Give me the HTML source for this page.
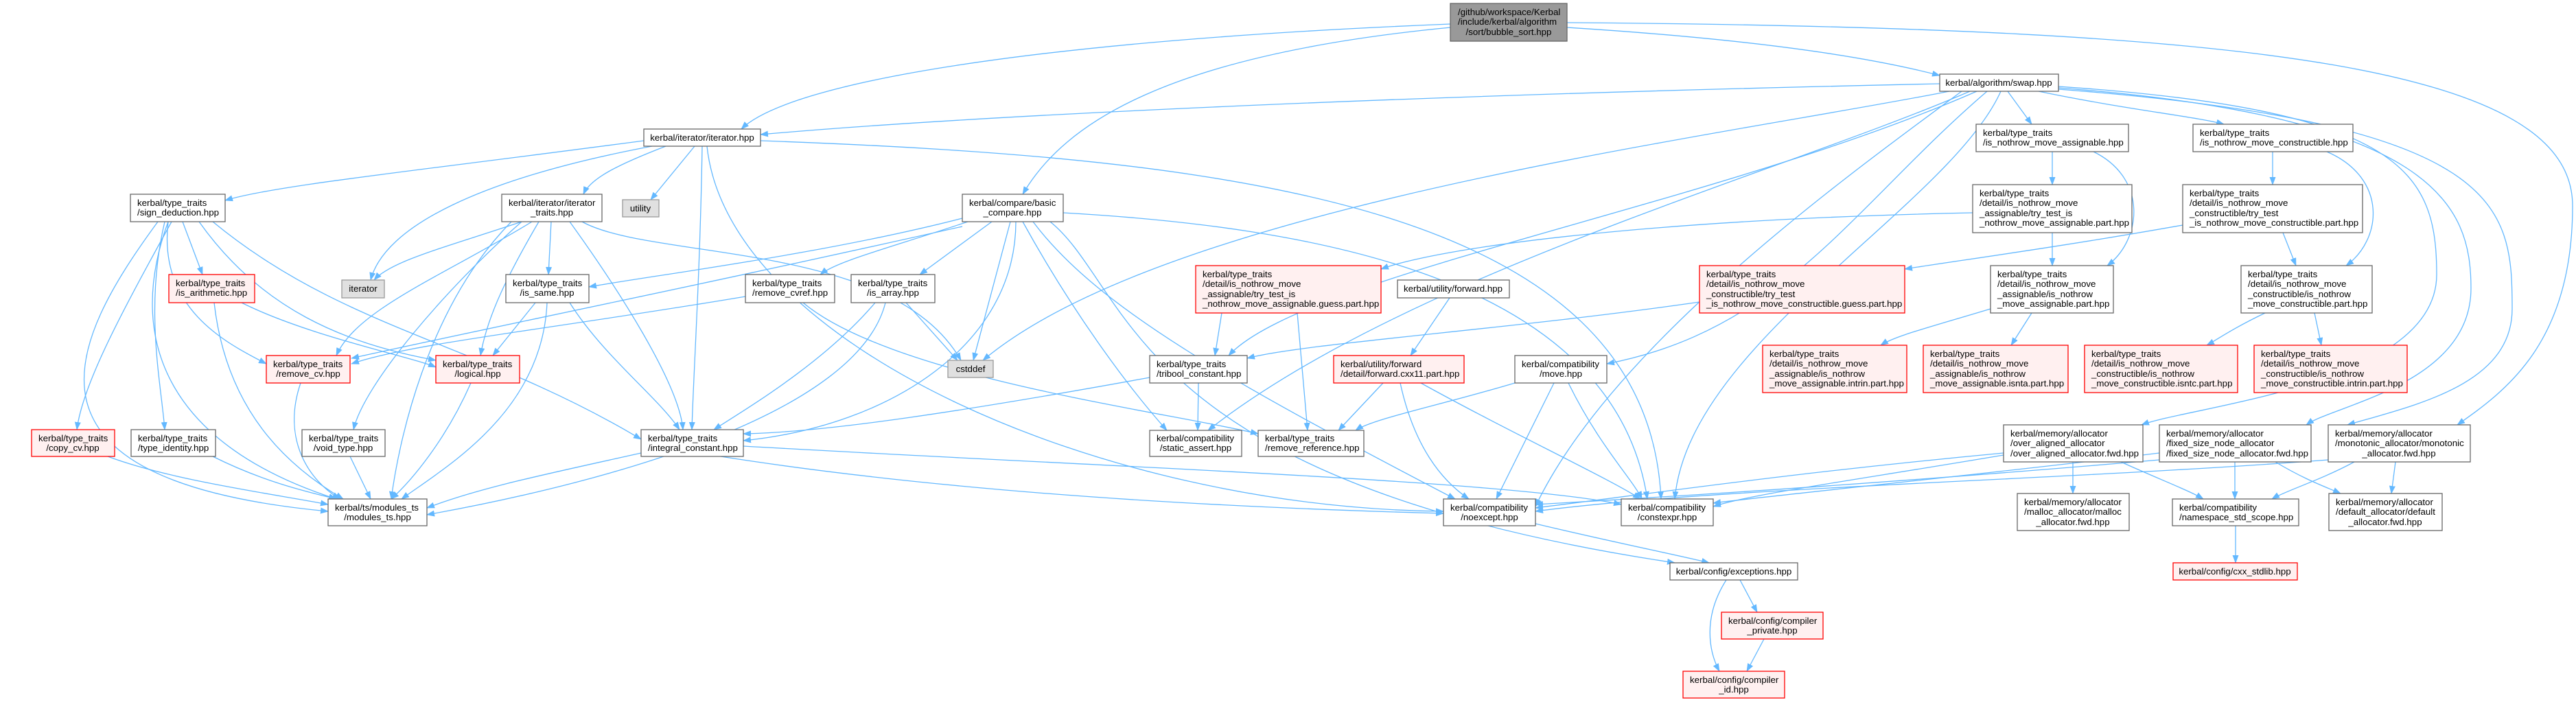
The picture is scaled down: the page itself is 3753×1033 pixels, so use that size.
<!DOCTYPE html>
<html><head><meta charset="utf-8"><style>
html,body{margin:0;padding:0;background:#fff;}
svg{display:block;}
text{font-family:"Liberation Sans",Arial,sans-serif;font-size:13.3px;fill:#000;}
.n{fill:#fff;stroke:#666;stroke-width:1.3;}
.r{fill:#fff0f0;stroke:#f00;stroke-width:1.3;}
.g{fill:#e0e0e0;stroke:#999;stroke-width:1.3;}
.rt{fill:#999;stroke:#666;stroke-width:1.3;}
.e path{fill:none;stroke:#63b8ff;stroke-width:1.3;marker-end:url(#a);}
</style></head><body>
<svg width="3753" height="1033" viewBox="0 0 3753 1033" xmlns="http://www.w3.org/2000/svg">
<defs><marker id="a" markerUnits="userSpaceOnUse" markerWidth="12" markerHeight="10" refX="11" refY="4.5" orient="auto"><path d="M0,0 L12,4.5 L0,9 z" fill="#63b8ff"/></marker></defs>
<g class="e">
<path d="M2113,35 C1500,60 1150,120 1080,188"/>
<path d="M2113,40 C1700,80 1550,180 1490,283"/>
<path d="M2283,40 C2600,60 2750,90 2826,110"/>
<path d="M2283,33 C3300,40 3748,100 3748,300 C3748,500 3650,570 3580,619"/>
<path d="M938,205 C600,250 400,270 328,292"/>
<path d="M970,213 C900,240 860,260 850,283"/>
<path d="M950,213 C700,260 560,330 540,408"/>
<path d="M1012,213 L948,291"/>
<path d="M1023,213 C1020,400 1010,550 1008,626"/>
<path d="M1030,213 C1060,500 1600,740 2103,745"/>
<path d="M1108,205 C1800,230 2400,300 2420,727"/>
<path d="M760,323 C650,360 570,380 545,408"/>
<path d="M803,323 L799,400"/>
<path d="M775,323 C650,400 520,450 490,518"/>
<path d="M785,323 C740,400 710,460 700,518"/>
<path d="M830,323 C900,420 990,560 995,626"/>
<path d="M760,323 C650,420 530,560 515,626"/>
<path d="M745,323 C620,450 580,650 570,727"/>
<path d="M848,323 C950,380 1300,350 1400,525"/>
<path d="M266,323 L295,400"/>
<path d="M245,323 C230,450 330,500 388,530"/>
<path d="M290,323 C380,450 500,500 635,525"/>
<path d="M310,323 C500,480 700,500 934,640"/>
<path d="M230,323 C100,500 0,700 478,745"/>
<path d="M250,323 C180,450 120,560 112,626"/>
<path d="M240,323 C210,450 235,560 240,626"/>
<path d="M245,323 C180,500 250,650 490,727"/>
<path d="M352,441 C450,490 600,520 635,535"/>
<path d="M312,441 C330,600 420,680 500,727"/>
<path d="M780,441 L718,518"/>
<path d="M830,441 C880,520 960,580 990,626"/>
<path d="M797,441 C790,600 650,680 585,727"/>
<path d="M438,558 C410,640 450,700 495,727"/>
<path d="M686,558 C650,640 600,700 570,727"/>
<path d="M510,665 L540,727"/>
<path d="M157,665 C250,700 400,720 478,735"/>
<path d="M310,665 C380,700 440,715 490,727"/>
<path d="M934,660 C800,690 700,710 622,740"/>
<path d="M1050,665 C1400,720 1800,740 2103,748"/>
<path d="M1083,650 C1600,680 2200,700 2362,735"/>
<path d="M1410,323 C1300,360 1220,380 1195,400"/>
<path d="M1445,323 L1340,400"/>
<path d="M1480,323 C1480,500 1300,620 1083,642"/>
<path d="M1472,323 L1418,525"/>
<path d="M1490,323 C1560,450 1640,560 1700,627"/>
<path d="M1505,323 C1600,450 1800,560 2120,727"/>
<path d="M1549,310 C1900,330 2350,400 2400,727"/>
<path d="M1530,323 C1650,420 1640,700 2440,820"/>
<path d="M1402,318 C1200,370 960,400 858,418"/>
<path d="M1402,330 C1000,420 700,480 512,522"/>
<path d="M1086,432 C800,480 600,500 512,530"/>
<path d="M1170,441 C1300,550 1700,600 1833,632"/>
<path d="M1275,441 C1200,530 1080,600 1040,626"/>
<path d="M1290,441 C1250,600 900,700 622,750"/>
<path d="M1320,441 L1395,525"/>
<path d="M2826,122 C2000,140 1400,170 1108,196"/>
<path d="M2925,133 L2960,181"/>
<path d="M2970,133 C3100,160 3200,170 3240,181"/>
<path d="M2840,133 C2500,200 1700,300 1432,525"/>
<path d="M2880,133 C2500,300 1900,400 1790,518"/>
<path d="M2895,133 C2700,300 2600,480 2341,530"/>
<path d="M2858,133 C2700,250 2350,500 2237,738"/>
<path d="M2915,133 C2840,300 2460,500 2440,727"/>
<path d="M2870,133 C2600,250 2050,400 1760,627"/>
<path d="M2999,126 C3500,160 3550,250 3550,400 C3550,560 3200,590 3120,619"/>
<path d="M2999,128 C3550,170 3600,300 3600,420 C3600,560 3400,590 3360,619"/>
<path d="M2999,130 C3650,180 3660,300 3660,450 C3660,560 3520,590 3420,619"/>
<path d="M2990,221 L2990,269"/>
<path d="M3050,221 C3130,260 3120,350 3070,387"/>
<path d="M3311,221 L3311,269"/>
<path d="M3390,221 C3480,260 3470,350 3418,387"/>
<path d="M2874,310 C2400,320 2100,360 2012,392"/>
<path d="M2990,339 L2990,387"/>
<path d="M3180,328 C3000,360 2850,380 2775,392"/>
<path d="M3326,339 L3345,387"/>
<path d="M1780,456 L1770,518"/>
<path d="M1890,456 L1905,627"/>
<path d="M2476,440 C2200,480 1900,500 1817,522"/>
<path d="M2900,450 C2800,480 2760,490 2740,503"/>
<path d="M2960,456 L2930,503"/>
<path d="M3300,456 C3250,480 3230,495 3215,503"/>
<path d="M3372,456 L3382,503"/>
<path d="M1675,550 C1400,600 1200,630 1083,632"/>
<path d="M1746,558 L1745,627"/>
<path d="M2112,434 L2055,518"/>
<path d="M2015,558 L1950,627"/>
<path d="M2040,558 C2060,650 2100,700 2140,727"/>
<path d="M2070,558 C2200,630 2350,700 2390,727"/>
<path d="M2207,558 C2100,590 2000,610 1975,627"/>
<path d="M2264,558 L2180,727"/>
<path d="M2285,558 C2330,650 2380,700 2392,727"/>
<path d="M2919,660 C2600,690 2400,720 2237,740"/>
<path d="M2919,663 C2700,700 2550,720 2496,738"/>
<path d="M3020,673 L3020,719"/>
<path d="M3090,673 C3150,700 3190,715 3210,727"/>
<path d="M3146,670 C2800,700 2500,720 2237,735"/>
<path d="M3146,660 C2900,690 2600,720 2496,733"/>
<path d="M3256,673 L3256,727"/>
<path d="M3315,673 C3360,700 3390,710 3410,719"/>
<path d="M3430,673 C3380,700 3330,715 3310,727"/>
<path d="M3490,673 L3484,719"/>
<path d="M3392,670 C3000,700 2500,710 2237,745"/>
<path d="M2237,763 C2350,790 2450,810 2490,820"/>
<path d="M2535,845 L2560,892"/>
<path d="M2515,845 C2480,900 2490,950 2505,978"/>
<path d="M2570,931 L2545,978"/>
<path d="M3257,766 L3257,820"/>
</g>
<g>
<rect class="rt" x="2113" y="5" width="170" height="55"/>
<text x="2124" y="22">/github/workspace/Kerbal</text><text x="2124" y="36">/include/kerbal/algorithm</text><text x="2198" y="51" text-anchor="middle">/sort/bubble_sort.hpp</text>

<rect class="n" x="938" y="188" width="170" height="25"/><text x="1023" y="205" text-anchor="middle">kerbal/iterator/iterator.hpp</text>
<rect class="n" x="2826" y="108" width="173" height="25"/><text x="2912" y="125" text-anchor="middle">kerbal/algorithm/swap.hpp</text>
<rect class="n" x="1402" y="283" width="147" height="40"/><text x="1412" y="300">kerbal/compare/basic</text><text x="1475" y="314" text-anchor="middle">_compare.hpp</text>
<rect class="n" x="190" y="283" width="138" height="40"/><text x="200" y="300">kerbal/type_traits</text><text x="200" y="314">/sign_deduction.hpp</text>
<rect class="n" x="731" y="283" width="146" height="40"/><text x="741" y="300">kerbal/iterator/iterator</text><text x="804" y="314" text-anchor="middle">_traits.hpp</text>
<rect class="g" x="907" y="291" width="53" height="25"/><text x="933" y="308" text-anchor="middle">utility</text>
<rect class="n" x="2879" y="181" width="222" height="40"/><text x="2889" y="198">kerbal/type_traits</text><text x="2889" y="212">/is_nothrow_move_assignable.hpp</text>
<rect class="n" x="3195" y="181" width="233" height="40"/><text x="3205" y="198">kerbal/type_traits</text><text x="3205" y="212">/is_nothrow_move_constructible.hpp</text>
<rect class="n" x="2874" y="269" width="232" height="70"/><text x="2884" y="286">kerbal/type_traits</text><text x="2884" y="300">/detail/is_nothrow_move</text><text x="2884" y="315">_assignable/try_test_is</text><text x="2884" y="329">_nothrow_move_assignable.part.hpp</text>
<rect class="n" x="3180" y="269" width="262" height="70"/><text x="3190" y="286">kerbal/type_traits</text><text x="3190" y="300">/detail/is_nothrow_move</text><text x="3190" y="315">_constructible/try_test</text><text x="3190" y="329">_is_nothrow_move_constructible.part.hpp</text>
<rect class="r" x="1742" y="387" width="270" height="69"/><text x="1752" y="404">kerbal/type_traits</text><text x="1752" y="418">/detail/is_nothrow_move</text><text x="1752" y="433">_assignable/try_test_is</text><text x="1752" y="447">_nothrow_move_assignable.guess.part.hpp</text>
<rect class="r" x="2476" y="387" width="299" height="69"/><text x="2486" y="404">kerbal/type_traits</text><text x="2486" y="418">/detail/is_nothrow_move</text><text x="2486" y="433">_constructible/try_test</text><text x="2486" y="447">_is_nothrow_move_constructible.guess.part.hpp</text>
<rect class="n" x="2900" y="387" width="179" height="69"/><text x="2910" y="404">kerbal/type_traits</text><text x="2910" y="418">/detail/is_nothrow_move</text><text x="2910" y="433">_assignable/is_nothrow</text><text x="2910" y="447">_move_assignable.part.hpp</text>
<rect class="n" x="3265" y="387" width="191" height="69"/><text x="3275" y="404">kerbal/type_traits</text><text x="3275" y="418">/detail/is_nothrow_move</text><text x="3275" y="433">_constructible/is_nothrow</text><text x="3275" y="447">_move_constructible.part.hpp</text>
<rect class="n" x="2036" y="408" width="163" height="26"/><text x="2117" y="425" text-anchor="middle">kerbal/utility/forward.hpp</text>
<rect class="r" x="246" y="400" width="125" height="41"/><text x="256" y="417">kerbal/type_traits</text><text x="256" y="431">/is_arithmetic.hpp</text>
<rect class="g" x="498" y="408" width="62" height="26"/><text x="529" y="425" text-anchor="middle">iterator</text>
<rect class="n" x="737" y="400" width="121" height="41"/><text x="747" y="417">kerbal/type_traits</text><text x="797" y="431" text-anchor="middle">/is_same.hpp</text>
<rect class="n" x="1086" y="400" width="130" height="41"/><text x="1096" y="417">kerbal/type_traits</text><text x="1096" y="431">/remove_cvref.hpp</text>
<rect class="n" x="1240" y="400" width="122" height="41"/><text x="1250" y="417">kerbal/type_traits</text><text x="1301" y="431" text-anchor="middle">/is_array.hpp</text>
<rect class="g" x="1381" y="525" width="66" height="25"/><text x="1414" y="542" text-anchor="middle">cstddef</text>
<rect class="r" x="388" y="518" width="122" height="40"/><text x="398" y="535">kerbal/type_traits</text><text x="449" y="549" text-anchor="middle">/remove_cv.hpp</text>
<rect class="r" x="635" y="518" width="122" height="40"/><text x="645" y="535">kerbal/type_traits</text><text x="696" y="549" text-anchor="middle">/logical.hpp</text>
<rect class="n" x="1675" y="518" width="142" height="40"/><text x="1685" y="535">kerbal/type_traits</text><text x="1685" y="549">/tribool_constant.hpp</text>
<rect class="r" x="1943" y="518" width="190" height="40"/><text x="1953" y="535">kerbal/utility/forward</text><text x="1953" y="549">/detail/forward.cxx11.part.hpp</text>
<rect class="n" x="2207" y="518" width="134" height="40"/><text x="2217" y="535">kerbal/compatibility</text><text x="2274" y="549" text-anchor="middle">/move.hpp</text>
<rect class="r" x="2568" y="503" width="210" height="69"/><text x="2578" y="520">kerbal/type_traits</text><text x="2578" y="534">/detail/is_nothrow_move</text><text x="2578" y="549">_assignable/is_nothrow</text><text x="2578" y="563">_move_assignable.intrin.part.hpp</text>
<rect class="r" x="2802" y="503" width="211" height="69"/><text x="2812" y="520">kerbal/type_traits</text><text x="2812" y="534">/detail/is_nothrow_move</text><text x="2812" y="549">_assignable/is_nothrow</text><text x="2812" y="563">_move_assignable.isnta.part.hpp</text>
<rect class="r" x="3037" y="503" width="223" height="69"/><text x="3047" y="520">kerbal/type_traits</text><text x="3047" y="534">/detail/is_nothrow_move</text><text x="3047" y="549">_constructible/is_nothrow</text><text x="3047" y="563">_move_constructible.isntc.part.hpp</text>
<rect class="r" x="3284" y="503" width="223" height="69"/><text x="3294" y="520">kerbal/type_traits</text><text x="3294" y="534">/detail/is_nothrow_move</text><text x="3294" y="549">_constructible/is_nothrow</text><text x="3294" y="563">_move_constructible.intrin.part.hpp</text>
<rect class="r" x="46" y="626" width="121" height="39"/><text x="56" y="643">kerbal/type_traits</text><text x="106" y="657" text-anchor="middle">/copy_cv.hpp</text>
<rect class="n" x="191" y="626" width="123" height="39"/><text x="201" y="643">kerbal/type_traits</text><text x="201" y="657">/type_identity.hpp</text>
<rect class="n" x="440" y="626" width="121" height="39"/><text x="450" y="643">kerbal/type_traits</text><text x="500" y="657" text-anchor="middle">/void_type.hpp</text>
<rect class="n" x="934" y="626" width="149" height="39"/><text x="944" y="643">kerbal/type_traits</text><text x="944" y="657">/integral_constant.hpp</text>
<rect class="n" x="1675" y="627" width="134" height="38"/><text x="1685" y="643">kerbal/compatibility</text><text x="1742" y="657" text-anchor="middle">/static_assert.hpp</text>
<rect class="n" x="1833" y="627" width="154" height="38"/><text x="1843" y="643">kerbal/type_traits</text><text x="1843" y="657">/remove_reference.hpp</text>
<rect class="n" x="2919" y="619" width="203" height="54"/><text x="2929" y="636">kerbal/memory/allocator</text><text x="2929" y="650">/over_aligned_allocator</text><text x="2929" y="665">/over_aligned_allocator.fwd.hpp</text>
<rect class="n" x="3146" y="619" width="221" height="54"/><text x="3156" y="636">kerbal/memory/allocator</text><text x="3156" y="650">/fixed_size_node_allocator</text><text x="3156" y="665">/fixed_size_node_allocator.fwd.hpp</text>
<rect class="n" x="3392" y="619" width="207" height="54"/><text x="3402" y="636">kerbal/memory/allocator</text><text x="3402" y="650">/monotonic_allocator/monotonic</text><text x="3495" y="665" text-anchor="middle">_allocator.fwd.hpp</text>
<rect class="n" x="478" y="727" width="144" height="39"/><text x="488" y="744">kerbal/ts/modules_ts</text><text x="550" y="758" text-anchor="middle">/modules_ts.hpp</text>
<rect class="n" x="2103" y="727" width="134" height="39"/><text x="2113" y="744">kerbal/compatibility</text><text x="2170" y="758" text-anchor="middle">/noexcept.hpp</text>
<rect class="n" x="2362" y="727" width="134" height="39"/><text x="2372" y="744">kerbal/compatibility</text><text x="2429" y="758" text-anchor="middle">/constexpr.hpp</text>
<rect class="n" x="2939" y="719" width="163" height="54"/><text x="2949" y="736">kerbal/memory/allocator</text><text x="2949" y="750">/malloc_allocator/malloc</text><text x="3020" y="765" text-anchor="middle">_allocator.fwd.hpp</text>
<rect class="n" x="3165" y="727" width="184" height="39"/><text x="3175" y="744">kerbal/compatibility</text><text x="3175" y="758">/namespace_std_scope.hpp</text>
<rect class="n" x="3393" y="719" width="165" height="54"/><text x="3403" y="736">kerbal/memory/allocator</text><text x="3403" y="750">/default_allocator/default</text><text x="3475" y="765" text-anchor="middle">_allocator.fwd.hpp</text>
<rect class="n" x="2433" y="820" width="186" height="25"/><text x="2526" y="837" text-anchor="middle">kerbal/config/exceptions.hpp</text>
<rect class="r" x="2508" y="892" width="148" height="39"/><text x="2518" y="909">kerbal/config/compiler</text><text x="2582" y="923" text-anchor="middle">_private.hpp</text>
<rect class="r" x="2452" y="978" width="148" height="39"/><text x="2462" y="995">kerbal/config/compiler</text><text x="2526" y="1009" text-anchor="middle">_id.hpp</text>
<rect class="r" x="3166" y="820" width="181" height="25"/><text x="3256" y="837" text-anchor="middle">kerbal/config/cxx_stdlib.hpp</text>
</g>
</svg>
</body></html>
